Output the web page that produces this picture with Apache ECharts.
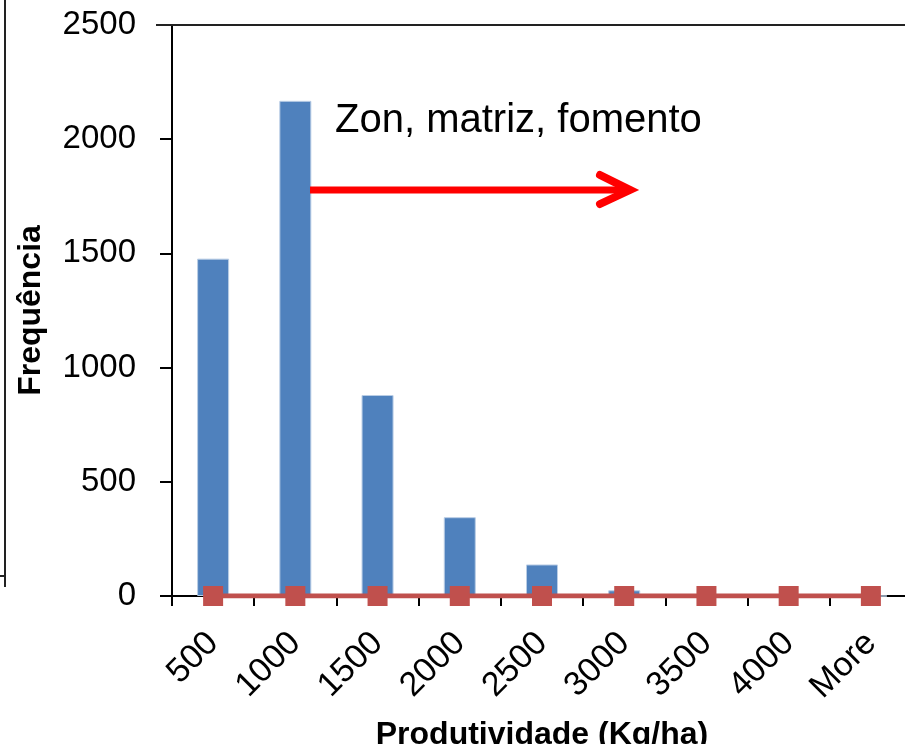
<!DOCTYPE html>
<html>
<head>
<meta charset="utf-8">
<script src="https://cdn.jsdelivr.net/npm/echarts@6/dist/echarts.min.js"></script>
<style>html,body{margin:0;padding:0;background:#fff}#c{width:905px;height:744px}</style>
</head>
<body>
<div id="c"></div>
<script>
const categories = ['500','1000','1500','2000','2500','3000','3500','4000','More'];
const frequency = [1477, 2168, 880, 345, 138, 25, 0, 0, 0];
const cumulative = [0, 0, 0, 0, 0, 0, 0, 0, 0];
const yTicks = { min: 0, max: 2500, interval: 500 };
const annotation = 'Zon, matriz, fomento';
const xTitle = 'Produtividade (Kg/ha)';
const yTitle = 'Frequência';

const FONT = '"Liberation Sans", Arial, sans-serif';
const chart = echarts.init(document.getElementById('c'));
chart.setOption({
  animation: false,
  backgroundColor: '#fff',
  grid: { left: 172, top: 25, width: 740, height: 571, outerBoundsMode: 'none', containLabel: false },
  xAxis: {
    type: 'category',
    data: categories,
    boundaryGap: true,
    axisLine: { lineStyle: { color: '#000', width: 2 } },
    axisTick: { show: true, length: 10, inside: false, alignWithLabel: false, lineStyle: { color: '#000', width: 2 } },
    axisLabel: { rotate: 45, margin: 42, color: '#000', fontSize: 34, fontFamily: FONT, interval: 0 },
    name: xTitle,
    nameLocation: 'middle',
    nameGap: 123,
    nameTextStyle: { color: '#000', fontSize: 32, fontWeight: 'bold', fontFamily: FONT }
  },
  yAxis: {
    type: 'value',
    min: yTicks.min, max: yTicks.max, interval: yTicks.interval,
    axisLine: { show: true, lineStyle: { color: '#000', width: 2 } },
    axisTick: { show: true, length: 12, lineStyle: { color: '#000', width: 2 } },
    splitLine: { show: false },
    axisLabel: { margin: 36, color: '#000', fontSize: 33, fontFamily: FONT, formatter: v => String(v) },
    name: yTitle,
    nameLocation: 'middle',
    nameGap: 125,
    nameRotate: 90,
    nameTextStyle: { color: '#000', fontSize: 32, fontWeight: 'bold', fontFamily: FONT }
  },
  series: [
    {
      type: 'bar',
      data: frequency,
      barWidth: 32,
      itemStyle: { color: '#4F81BD', borderColor: '#B9CDE5', borderWidth: 1 },
      z: 2
    },
    {
      type: 'line',
      data: cumulative,
      symbol: 'rect',
      symbolSize: 20,
      lineStyle: { color: '#C0504D', width: 5 },
      itemStyle: { color: '#C0504D' },
      z: 3
    }
  ],
  graphic: [
    { type: 'line', shape: { x1: 156, y1: 25, x2: 905, y2: 25 }, style: { stroke: '#222', lineWidth: 2 }, z: 10 },
    { type: 'line', shape: { x1: 5, y1: 0, x2: 5, y2: 587 }, style: { stroke: '#222', lineWidth: 2 }, z: 10 },
    { type: 'line', shape: { x1: 0, y1: 576, x2: 5, y2: 576 }, style: { stroke: '#222', lineWidth: 2 }, z: 10 },
    { type: 'text', left: 335, top: 101, style: { text: annotation, fontSize: 40, fontFamily: FONT, fill: '#000' }, z: 10 },
    { type: 'line', shape: { x1: 310, y1: 190, x2: 628, y2: 190 }, style: { stroke: '#FF0000', lineWidth: 7 }, z: 10 },
    { type: 'polyline', shape: { points: [[600, 175], [630, 190], [600, 204]] }, style: { stroke: '#FF0000', fill: null, lineWidth: 8, lineCap: 'round', lineJoin: 'miter' }, z: 10 }
  ]
});
</script>
</body>
</html>
